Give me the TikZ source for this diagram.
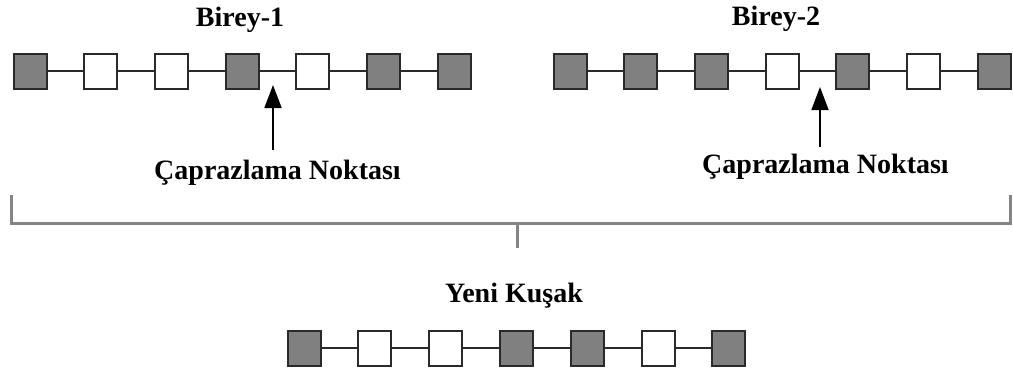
\documentclass[tikz,border=0pt]{standalone}
\usepackage{fontspec}
\setmainfont{Liberation Serif}
\usetikzlibrary{arrows.meta}
\definecolor{genedark}{HTML}{808080}
\definecolor{edgecol}{HTML}{2A2A2A}
\definecolor{brackcol}{HTML}{858585}
\tikzset{
  gene/.style={draw=edgecol, line width=2pt, minimum width=33pt, minimum height=35pt, inner sep=0pt},
  dgene/.style={gene, fill=genedark},
  wgene/.style={gene, fill=white},
  link/.style={draw=edgecol, line width=1.8pt},
  lbl/.style={font=\fontsize{28}{30}\selectfont\bfseries, inner sep=0pt, anchor=base},
  bracket/.style={draw=brackcol, line width=3pt},
  pointer/.style={draw=black, line width=1.8pt, -{Triangle[width=17pt,length=23pt]}}
}
\begin{document}
\begin{tikzpicture}[x=1pt,y=-1pt]
\useasboundingbox (0,0) rectangle (1013,376);
% row 1
\foreach \i/\s in {0/dgene,1/wgene,2/wgene,3/dgene,4/wgene,5/dgene,6/dgene}{
  \node[\s] (a\i) at ({30+70.67*\i},71) {};
}
\foreach \i [evaluate=\i as \j using int(\i+1)] in {0,...,5}{
  \draw[link] (a\i.east) -- (a\j.west);
}
% row 2
\foreach \i/\s in {0/dgene,1/dgene,2/dgene,3/wgene,4/dgene,5/wgene,6/dgene}{
  \node[\s] (b\i) at ({570+70.67*\i},71) {};
}
\foreach \i [evaluate=\i as \j using int(\i+1)] in {0,...,5}{
  \draw[link] (b\i.east) -- (b\j.west);
}
% row 3
\foreach \i/\s in {0/dgene,1/wgene,2/wgene,3/dgene,4/dgene,5/wgene,6/dgene}{
  \node[\s] (c\i) at ({304+70.83*\i},348) {};
}
\foreach \i [evaluate=\i as \j using int(\i+1)] in {0,...,5}{
  \draw[link] (c\i.east) -- (c\j.west);
}
% labels
\node[lbl] (t1) at (240,26) {Birey-1};
\node[lbl] (t2) at (776,25) {Birey-2};
\node[lbl] (p1) at (277.5,179) {Çaprazlama Noktası};
\node[lbl] (p2) at (825.5,173) {Çaprazlama Noktası};
\node[lbl] (t3) at (514,302) {Yeni Kuşak};
% arrows
\coordinate (s1) at (273,150);
\coordinate (e1) at (273,85);
\coordinate (s2) at (820,147);
\coordinate (e2) at (820,87);
\draw[pointer] (s1) -- (e1);
\draw[pointer] (s2) -- (e2);
% bracket
\coordinate (bl) at (11,195);
\coordinate (br) at (1010,195);
\coordinate (bm) at (517,223);
\coordinate (bs) at (517,248);
\draw[bracket] (bl) |- (bm) -| (br);
\draw[bracket] (bm) -- (bs);
\end{tikzpicture}
\end{document}
